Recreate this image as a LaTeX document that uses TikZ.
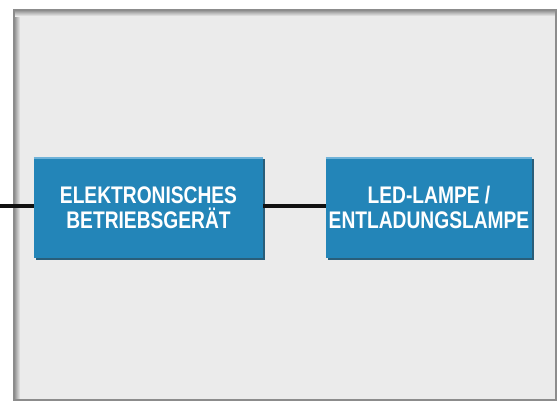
\documentclass[tikz,border=0pt]{standalone}
\usepackage{fontspec}
\setmainfont{Liberation Sans}[FakeStretch=0.8]
\usetikzlibrary{positioning,shadows}
\definecolor{cPanel}{HTML}{EBEBEB}
\definecolor{cEdge}{HTML}{8C8C8C}
\definecolor{cBox}{HTML}{2385B8}
\definecolor{cBoxLight}{HTML}{6FB2D8}
\definecolor{cBoxDark}{HTML}{154F6E}
\definecolor{cWire}{HTML}{111111}
\tikzset{
  block/.style={rectangle, fill=cBox, text=white, align=center,
    font=\fontsize{18}{19}\selectfont\bfseries, inner sep=0pt,
    minimum height=75.75pt,
    drop shadow={shadow xshift=1.5pt, shadow yshift=-1.5pt,
      fill=cBoxDark, opacity=0.9}},
  wire/.style={cWire, line width=2.8pt},
  hilite/.style={cBoxLight, line width=1.5pt},
}

\begin{document}
\begin{tikzpicture}[x=0.75pt, y=-0.75pt]
\useasboundingbox (0,0) rectangle (558,405);
% panel
\fill[white] (0,0) rectangle (558,405);
\fill[cPanel] (14,10) rectangle (556,400);
\fill[left color=black!45, right color=cPanel] (14,10) rectangle (20,400);
\fill[top color=black!45, bottom color=cPanel] (14,10) rectangle (556,16);
\draw[cEdge, line width=1.2pt] (14,10) rectangle (556,400);

% blocks
\node[block, minimum width=171.75pt] (ebg) at (148.5,207.5)
  {ELEKTRONISCHES\\BETRIEBSGERÄT};
\node[block, minimum width=154.5pt] (lamp) at (429,207.5)
  {LED-LAMPE /\\ENTLADUNGSLAMPE};
\draw[hilite] ([yshift=-0.75pt]ebg.north west) -- ([yshift=-0.75pt]ebg.north east);
\draw[hilite] ([yshift=-0.75pt]lamp.north west) -- ([yshift=-0.75pt]lamp.north east);

% wires
\coordinate (in) at (0,206);
\draw[wire] (in) -- (ebg.west |- in);
\draw[wire] (ebg.east |- in) -- (lamp.west |- in);
\end{tikzpicture}
\end{document}
